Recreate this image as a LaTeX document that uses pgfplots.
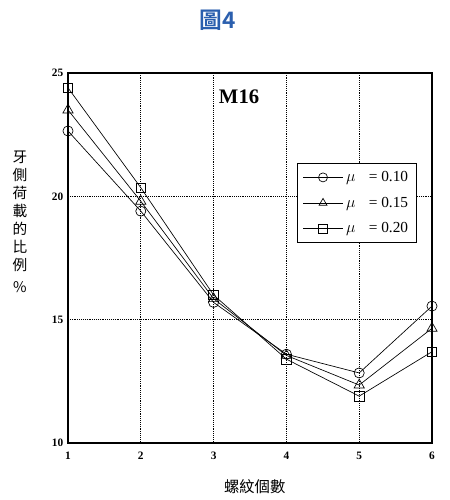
\documentclass[border=0pt]{standalone}
\usepackage{pgfplots}
\pgfplotsset{compat=1.18}
\usepackage{fontspec}
\setmainfont{Liberation Serif}
\newfontfamily\cjk{Noto Sans CJK TC}
\newfontfamily\cjkb{Noto Sans CJK TC}[BoldFont={* Bold}]
\definecolor{titleblue}{HTML}{2B5FAE}
\begin{document}
\begin{tikzpicture}
\useasboundingbox (0,0) rectangle (337.5pt,375pt);
\begin{axis}[
  at={(51pt,42.75pt)}, anchor=south west,
  scale only axis, width=273pt, height=277.5pt,
  xmin=1, xmax=6, ymin=10, ymax=25,
  xtick={1,2,3,4,5,6}, ytick={10,15,20,25},
  grid=major, major grid style={black, densely dotted, line width=0.5pt},
  axis line style={black, line width=0.8pt},
  tick style={draw=none},
  /pgf/number format/assume math mode=true,
  ticklabel style={font=\fontsize{8.5}{9}\selectfont\bfseries},
  xticklabel style={yshift=-3pt},
  legend style={at={(0.629,0.757)}, anchor=north west, draw=black, line width=0.6pt,
    font=\fontsize{11.5}{13}\selectfont, row sep=6pt, inner sep=4pt},
  legend cell align=left,
  legend image code/.code={\draw[#1] (0pt,0pt) -- (30pt,0pt); \draw[#1, only marks, mark size=3.4pt] plot coordinates {(15pt,0pt)};},
]
\addplot[black, line width=0.5pt, mark=o, mark size=3.8pt, mark options={fill=white, solid}] coordinates {
(1,22.65) (2,19.4) (3,15.7) (4,13.6) (5,12.84) (6,15.55)};
\addlegendentry{$\mu$\hspace{10pt}= 0.10}
\addplot[black, line width=0.5pt, mark=triangle, mark size=4.4pt, mark options={fill=white, solid}] coordinates {
(1,23.5) (2,19.8) (3,15.85) (4,13.55) (5,12.35) (6,14.65)};
\addlegendentry{$\mu$\hspace{10pt}= 0.15}
\addplot[black, line width=0.5pt, mark=square, mark size=3.6pt, mark options={fill=white, solid}] coordinates {
(1,24.4) (2,20.35) (3,16.0) (4,13.4) (5,11.9) (6,13.7)};
\addlegendentry{$\mu$\hspace{10pt}= 0.20}
\node[font=\fontsize{15.5}{17}\selectfont\bfseries] at (rel axis cs:0.47,0.935) {M16};
\end{axis}
\node[font=\cjkb\fontsize{17}{19}\selectfont\bfseries, text=titleblue] at (163.5pt,360pt) {圖4};
\node[font=\cjk\fontsize{11.5}{13}\selectfont] at (191pt,9.75pt) {螺紋個數};
\node[font=\cjk\fontsize{11}{13.5}\selectfont, align=center, inner sep=0pt] at (15pt,209pt) {牙\\側\\荷\\載\\的\\比\\例\\[3pt]\%};
\end{tikzpicture}
\end{document}
